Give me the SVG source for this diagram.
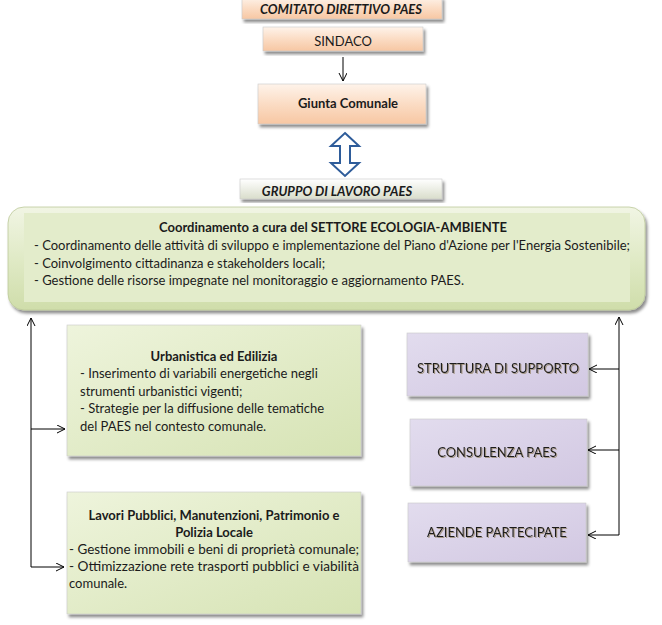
<svg xmlns="http://www.w3.org/2000/svg" width="662" height="625" viewBox="0 0 662 625">
<defs>
<linearGradient id="peach" x1="0" y1="0" x2="0" y2="1"><stop offset="0" stop-color="#FEF3EA"/><stop offset="0.5" stop-color="#FBDCC4"/><stop offset="1" stop-color="#F7C7A3"/></linearGradient>
<linearGradient id="grey" x1="0" y1="0" x2="0" y2="1"><stop offset="0" stop-color="#FFFFFF"/><stop offset="1" stop-color="#D9DDCB"/></linearGradient>
<linearGradient id="greenbig" x1="0" y1="0" x2="0" y2="1"><stop offset="0" stop-color="#F1F5E4"/><stop offset="0.5" stop-color="#E0EAC6"/><stop offset="1" stop-color="#CFDDAA"/></linearGradient>
<linearGradient id="green" x1="0" y1="0" x2="1" y2="1"><stop offset="0" stop-color="#EEF4DC"/><stop offset="1" stop-color="#D6E3B4"/></linearGradient>
<linearGradient id="purple" x1="0" y1="0" x2="1" y2="1"><stop offset="0" stop-color="#E2DCEE"/><stop offset="1" stop-color="#D2C8E2"/></linearGradient>
<filter id="sh" x="-10%" y="-10%" width="120%" height="130%"><feDropShadow dx="2" dy="3" stdDeviation="1.5" flood-color="#000" flood-opacity="0.45"/></filter>
<filter id="tsh" x="-5%" y="-20%" width="110%" height="150%"><feDropShadow dx="1" dy="1" stdDeviation="0.4" flood-color="#9a8a70" flood-opacity="0.8"/></filter>
<marker id="ah" markerWidth="10" markerHeight="10" refX="8" refY="4" orient="auto" markerUnits="userSpaceOnUse"><path d="M0,0 L8,4 L0,8" fill="none" stroke="#000" stroke-width="1"/></marker>
</defs>
<style>
text{font-family:Lato,"Liberation Sans",sans-serif;fill:#1b1b1b;font-size:13px}
.b{font-weight:bold}
.bi{font-weight:bold;font-style:italic}
.c{text-anchor:middle}
.box{stroke:#c9c9c9;stroke-width:0.6;filter:url(#sh)}
.conn{stroke:#000;stroke-width:1;fill:none}
</style>

<g id="comitato">
<rect class="box" x="242" y="-3" width="200" height="22" fill="url(#peach)"/>
<text class="bi c" x="341" y="14" font-size="13.5">COMITATO DIRETTIVO PAES</text>
</g>
<g id="sindaco">
<rect class="box" x="263" y="27" width="160" height="24" fill="url(#peach)"/>
<text class="c" x="343" y="46">SINDACO</text>
</g>
<g id="giunta">
<rect class="box" x="258" y="84" width="168" height="40" fill="url(#peach)"/>
<text class="b c" x="348" y="108" font-size="15">Giunta Comunale</text>
</g>
<g id="gruppo">
<rect class="box" x="240" y="179" width="202" height="20" fill="url(#grey)"/>
<text class="bi c" x="337" y="196" font-size="13.8">GRUPPO DI LAVORO PAES</text>
</g>
<g id="coordinamento">
<rect x="8" y="207" width="637" height="103" rx="16" fill="url(#greenbig)" stroke="#bcc99a" stroke-width="0.8" filter="url(#sh)"/>
<rect x="24" y="213" width="606" height="89" fill="#E3ECCB"/>
<text class="b c" x="333" y="232" font-size="13.3">Coordinamento a cura del SETTORE  ECOLOGIA-AMBIENTE</text>
<text x="34" y="250" textLength="596" lengthAdjust="spacingAndGlyphs">- Coordinamento  delle  attività di sviluppo  e  implementazione  del  Piano  d'Azione  per  l'Energia  Sostenibile;</text>
<text x="34" y="268">- Coinvolgimento  cittadinanza  e  stakeholders  locali;</text>
<text x="34" y="285">- Gestione delle risorse impegnate nel monitoraggio e aggiornamento PAES.</text>
</g>
<g id="urbanistica">
<rect class="box" x="67" y="325" width="294" height="131" fill="url(#green)"/>
<text class="b c" x="214" y="361" font-size="14">Urbanistica ed Edilizia</text>
<text x="80" y="378">- Inserimento di variabili energetiche negli</text>
<text x="80" y="396">strumenti urbanistici vigenti;</text>
<text x="80" y="413">- Strategie per la diffusione  delle tematiche</text>
<text x="80" y="431">del PAES nel contesto comunale.</text>
</g>
<g id="lavori">
<rect class="box" x="67" y="492" width="294" height="122" fill="url(#green)"/>
<text class="b c" x="214" y="520" font-size="14">Lavori Pubblici, Manutenzioni, Patrimonio e</text>
<text class="b c" x="214" y="537" font-size="14">Polizia Locale</text>
<text x="69" y="554" textLength="290" lengthAdjust="spacingAndGlyphs">- Gestione immobili  e beni di proprietà comunale;</text>
<text x="69" y="571" textLength="290" lengthAdjust="spacingAndGlyphs">- Ottimizzazione rete trasporti pubblici  e viabilità</text>
<text x="69" y="588">comunale.</text>
</g>
<g id="struttura">
<rect class="box" x="407" y="333" width="181" height="63" fill="url(#purple)"/>
<text class="c" x="498" y="373" filter="url(#tsh)">STRUTTURA DI SUPPORTO</text>
</g>
<g id="consulenza">
<rect class="box" x="410" y="419" width="177" height="67" fill="url(#purple)"/>
<text class="c" x="497" y="457" filter="url(#tsh)">CONSULENZA PAES</text>
</g>
<g id="aziende">
<rect class="box" x="408" y="503" width="178" height="59" fill="url(#purple)"/>
<text class="c" x="497" y="537" filter="url(#tsh)">AZIENDE PARTECIPATE</text>
</g>
<g id="connectors">
<line class="conn" x1="343" y1="57" x2="343" y2="81" marker-end="url(#ah)"/>
<path d="M345,133 L359,146 L350,146 L350,163 L359,163 L345,176 L331,163 L340,163 L340,146 L331,146 Z" fill="#fff" stroke="#2E5C9A" stroke-width="2" stroke-linejoin="miter"/>
<line class="conn" x1="31" y1="567" x2="31" y2="318" marker-end="url(#ah)"/>
<line class="conn" x1="31" y1="429" x2="65" y2="429" marker-end="url(#ah)"/>
<line class="conn" x1="31" y1="567" x2="64" y2="567" marker-end="url(#ah)"/>
<line class="conn" x1="619" y1="535" x2="619" y2="317" marker-end="url(#ah)"/>
<line class="conn" x1="619" y1="369" x2="589" y2="369" marker-end="url(#ah)"/>
<line class="conn" x1="619" y1="450" x2="588" y2="450" marker-end="url(#ah)"/>
<line class="conn" x1="619" y1="535" x2="588" y2="535" marker-end="url(#ah)"/>
</g>
</svg>
